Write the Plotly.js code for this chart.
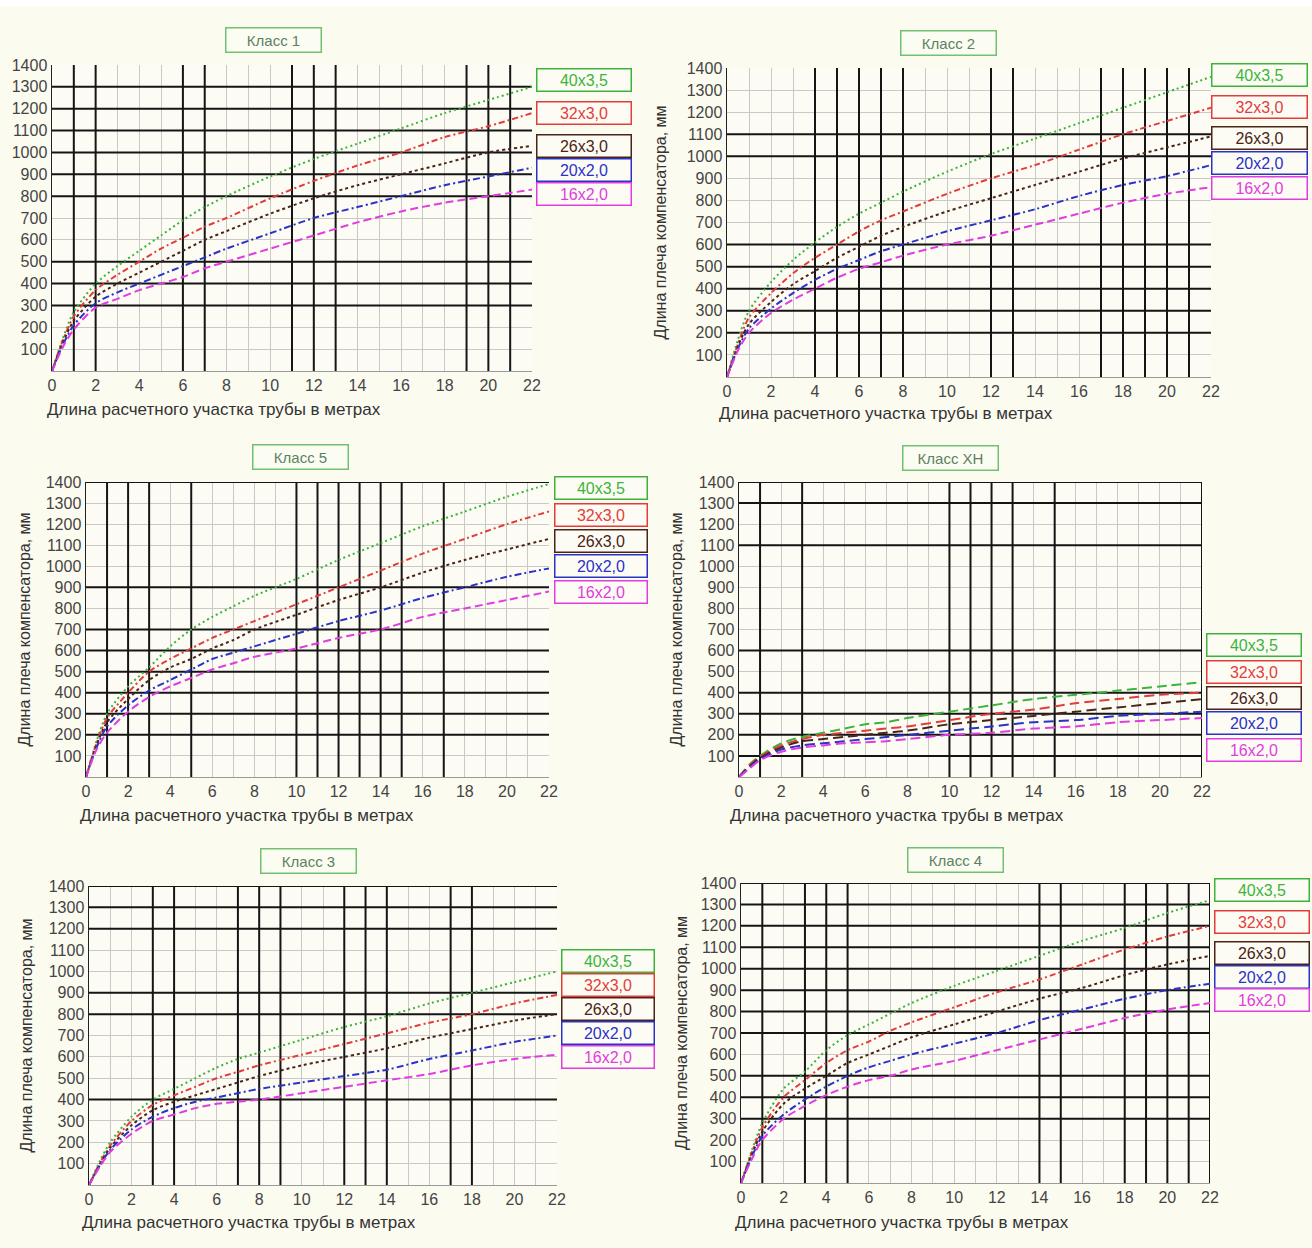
<!DOCTYPE html>
<html><head><meta charset="utf-8">
<script src="https://cdn.plot.ly/plotly-3.0.1.min.js"></script>
<style>html,body{margin:0;padding:0;background:#fcfbf0;}</style>
</head><body>
<div id="chart" style="width:1312px;height:1248px;"></div>
<script>
// ---- data ----
const xs = [0,0.5,1,2,3,4,5,6,7,8,10,12,14,16,18,20,22];
const series = ['40х3,5','32х3,0','26х3,0','20х2,0','16х2,0'];
const panelTitles = ['Класс 1','Класс 2','Класс 5','Класс ХН','Класс 3','Класс 4'];
const xTickVals = [0,2,4,6,8,10,12,14,16,18,20,22];
const yTickVals = [100,200,300,400,500,600,700,800,900,1000,1100,1200,1300,1400];
const xTitle = 'Длина расчетного участка трубы в метрах';
const yTitle = 'Длина плеча компенсатора, мм';

// Класс 1
const k1_40 = [0,150,270,400,480,550,620,690,750,800,890,970,1040,1110,1180,1240,1300];
const k1_32 = [0,140,250,370,440,500,560,610,660,700,790,870,940,1000,1070,1120,1180];
const k1_26 = [0,130,230,340,400,450,500,550,600,640,720,790,850,900,950,1000,1030];
const k1_20 = [0,120,210,310,360,400,440,480,520,560,630,700,750,800,850,890,930];
const k1_16 = [0,110,190,290,330,370,400,430,470,500,560,620,680,730,770,800,830];
// Класс 2
const k2_40 = [0,170,300,430,530,610,680,740,790,840,930,1010,1080,1150,1220,1290,1360];
const k2_32 = [0,150,270,380,470,540,600,660,710,750,830,900,960,1030,1100,1160,1220];
const k2_26 = [0,140,240,340,420,480,540,590,640,680,750,810,870,930,990,1040,1090];
const k2_20 = [0,130,220,310,380,440,490,530,570,600,660,710,760,820,870,910,960];
const k2_16 = [0,120,200,290,350,400,450,490,520,550,600,640,690,740,790,830,860];
// Класс 5
const k5_40 = [0,170,300,430,520,620,700,760,810,860,940,1030,1110,1190,1260,1330,1390];
const k5_32 = [0,160,280,400,500,560,610,660,700,740,820,900,980,1060,1130,1200,1260];
const k5_26 = [0,150,260,370,460,520,560,610,650,700,770,840,900,970,1030,1080,1130];
const k5_20 = [0,140,240,340,410,460,510,560,590,620,680,740,790,850,900,950,990];
const k5_16 = [0,130,210,310,380,430,470,510,540,570,610,660,700,760,800,840,880];
// Класс ХН
const kXH_40 = [0,60,100,160,190,210,230,250,260,280,310,340,370,390,410,430,450];
const kXH_32 = [0,55,95,150,180,200,210,220,230,240,270,300,320,350,370,390,400];
const kXH_26 = [0,50,90,140,170,180,190,200,210,220,250,270,290,310,330,350,370];
const kXH_20 = [0,45,85,130,150,160,170,180,190,200,220,240,260,270,290,300,310];
const kXH_16 = [0,40,80,120,140,150,160,165,170,180,200,210,230,240,260,270,280];
// Класс 3
const k3_40 = [0,110,200,320,400,450,500,550,590,620,680,740,790,850,900,950,1000];
const k3_32 = [0,100,185,300,375,420,460,500,530,560,610,660,710,760,800,850,890];
const k3_26 = [0,95,175,280,350,390,420,450,480,510,560,600,640,690,730,770,800];
const k3_20 = [0,90,165,260,320,360,390,410,430,450,480,510,540,590,630,670,700];
const k3_16 = [0,85,155,240,300,330,360,380,390,400,430,460,490,520,560,590,610];
// Класс 4
const k4_40 = [0,150,280,440,520,620,690,740,790,840,920,990,1060,1130,1190,1260,1320];
const k4_32 = [0,140,260,400,480,560,620,660,710,750,820,890,950,1020,1090,1150,1200];
const k4_26 = [0,130,240,370,440,500,560,600,640,680,740,800,860,910,970,1020,1060];
const k4_20 = [0,120,220,320,390,450,500,540,570,600,650,700,760,810,860,900,930];
const k4_16 = [0,110,200,300,360,410,450,480,500,530,570,620,670,720,770,810,840];

// highlighted (black) grid lines, in axis units
const k1BlackX = [1,2,6,7,11,12,13,19,20,21];
const k1BlackY = [300,400,500,800,900,1000,1100,1200,1300];
const k2BlackX = [4,5,6,7,8,12,13,17,18,19,20,21];
const k2BlackY = [200,300,400,500,600,1000,1100];
const k5BlackX = [1,2,3,5,10,11,12,13,14,15,17];
const k5BlackY = [200,300,400,500,600,700,900,1400];
const kXHBlackX = [1,3,10,11,12,13,15,22];
const kXHBlackY = [100,200,300,400,600,1100,1300,1400];
const k3BlackX = [3,4,7,8,9,12,13,14,17,18];
const k3BlackY = [400,800,900,1200,1300,1400];
const k4BlackX = [1,3,4,5,14,15,18,19,20,21,22];
const k4BlackY = [300,400,500,700,800,900,1000,1100,1200,1300,1400];

// ---- assembly ----
const panelData = [
  [k1_40,k1_32,k1_26,k1_20,k1_16],
  [k2_40,k2_32,k2_26,k2_20,k2_16],
  [k5_40,k5_32,k5_26,k5_20,k5_16],
  [kXH_40,kXH_32,kXH_26,kXH_20,kXH_16],
  [k3_40,k3_32,k3_26,k3_20,k3_16],
  [k4_40,k4_32,k4_26,k4_20,k4_16]
];
const blackX = [k1BlackX,k2BlackX,k5BlackX,kXHBlackX,k3BlackX,k4BlackX];
const blackY = [k1BlackY,k2BlackY,k5BlackY,kXHBlackY,k3BlackY,k4BlackY];

const W = 1312, H = 1248;
const fx = p => p / W;
const fy = p => 1 - p / H;
const colors = ['#3cb43c','#e23c3c','#4a2418','#2a32c8','#e03ce0'];
const dashes = ['2px,3px','6px,3px,2px,3px','3px,3px','7px,3px,2px,3px','8px,4px'];

// pixel geometry of each panel
const geo = [
  {l:52, r:532, t:65, b:371, title:[273,40], leg:[535,632,[80,113,146,170,194]], xt:[45,410], yt:null},
  {l:727,r:1211,t:68, b:377, title:[948,43], leg:[1210,1308,[75,107,138,163,188]], xt:[717,413], yt:660},
  {l:86, r:549, t:482,b:777, title:[300,457], leg:[553,648,[488,515,541,566,592]], xt:[78,815], yt:24},
  {l:739,r:1202,t:482,b:777, title:[950,458], leg:[1205,1302,[645,672,698,723,750]], xt:[728,815], yt:676},
  {l:89, r:557, t:886,b:1185,title:[308,861], leg:[560,655,[961,985,1009,1033,1057]], xt:[80,1222], yt:26},
  {l:741,r:1210,t:883,b:1183,title:[955,860], leg:[1213,1310,[890,922,953,977,1000]], xt:[733,1222], yt:681}
];

const traces = [];
const shapes = [];
const annotations = [];
const layout = {
  width: W, height: H,
  margin: {l:0,r:0,t:0,b:0},
  paper_bgcolor: '#fcfbf0',
  plot_bgcolor: '#fdfcf4',
  showlegend: false,
  font: {family: '"Liberation Sans", Arial, sans-serif', color: '#333'}
};

geo.forEach((g, i) => {
  const n = i === 0 ? '' : String(i + 1);
  const xa = 'x' + n, ya = 'y' + n;
  layout['xaxis' + n] = {
    domain: [fx(g.l), fx(g.r)], anchor: ya, range: [0, 22],
    tickmode: 'array', tickvals: xTickVals, ticks: '',
    showgrid: true, gridcolor: '#c9c9c6', gridwidth: 1,
    minor: {dtick: 1, tick0: 0, showgrid: true, gridcolor: '#c9c9c6', gridwidth: 1},
    showline: true, linecolor: '#9a9a9a', linewidth: 1,
    zeroline: false, fixedrange: true,
    tickfont: {size: 16, color: '#444'}
  };
  layout['yaxis' + n] = {
    domain: [fy(g.b), fy(g.t)], anchor: xa, range: [0, 1400],
    tickmode: 'array', tickvals: yTickVals, ticks: '',
    showgrid: true, gridcolor: '#c9c9c6', gridwidth: 1,
    showline: true, linecolor: '#222', linewidth: 1.5,
    zeroline: false, fixedrange: true,
    tickfont: {size: 16, color: '#444'}
  };
  // black highlighted lines
  blackX[i].forEach(v => shapes.push({type:'line', xref:xa, yref:ya, x0:v, x1:v, y0:0, y1:1400, layer:'between', line:{color:'#151515', width:2}}));
  blackY[i].forEach(v => shapes.push({type:'line', xref:xa, yref:ya, x0:0, x1:22, y0:v, y1:v, layer:'between', line:{color:'#151515', width:2}}));
  // curves
  panelData[i].forEach((ys, s) => {
    traces.push({
      type: 'scatter', mode: 'lines', x: xs, y: ys, xaxis: xa, yaxis: ya,
      name: series[s], line: {color: colors[s], width: 2, dash: i === 3 ? '10px,5px' : dashes[s], shape: 'spline', smoothing: 0.8},
      hoverinfo: 'skip'
    });
  });
  // panel title
  annotations.push({
    xref:'paper', yref:'paper', x: fx(g.title[0]), y: fy(g.title[1]), xanchor:'center', yanchor:'middle',
    text: panelTitles[i], showarrow:false, font:{size:15, color:'#5f805f'},
    bordercolor:'#72c072', borderwidth:1.5, borderpad:3, bgcolor:'#fbfdf3', width: 88
  });
  // series label boxes
  const [lx0, lx1, lys] = g.leg;
  series.forEach((s, k) => {
    annotations.push({
      xref:'paper', yref:'paper', x: fx((lx0 + lx1) / 2), y: fy(lys[k]), xanchor:'center', yanchor:'middle',
      text: s, showarrow:false, font:{size:16, color: colors[k]},
      bordercolor: colors[k], borderwidth: 1.5, borderpad: 1, bgcolor:'#fdfcf4',
      width: lx1 - lx0 - 6, height: 19
    });
  });
  // x title
  annotations.push({
    xref:'paper', yref:'paper', x: fx(g.xt[0]), y: fy(g.xt[1]), xanchor:'left', yanchor:'middle',
    text: xTitle, showarrow:false, font:{size:17, color:'#333'}
  });
  // y title
  if (g.yt !== null) {
    annotations.push({
      xref:'paper', yref:'paper', x: fx(g.yt), y: fy((g.t + g.b) / 2), xanchor:'center', yanchor:'middle',
      text: yTitle, textangle: -90, showarrow:false, font:{size:16, color:'#333'}
    });
  }
});

shapes.push({type:'rect', xref:'paper', yref:'paper', x0:0, x1:1, y0:fy(6), y1:1, fillcolor:'#ffffff', line:{width:0}, layer:'below'});

layout.shapes = shapes;
layout.annotations = annotations;

Plotly.newPlot('chart', traces, layout, {staticPlot: true, displayModeBar: false});
</script>
</body></html>
